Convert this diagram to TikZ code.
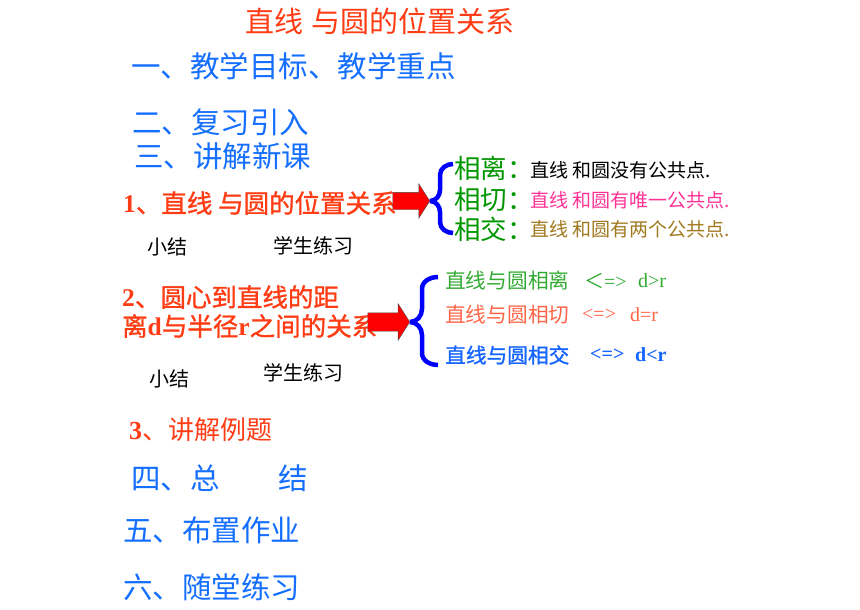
\documentclass[tikz,border=0pt]{standalone}
\usepackage{fontspec}
\setmainfont{Liberation Serif}
\newfontfamily\cjk{Noto Sans CJK SC}
\newfontfamily\cjkbf[FakeBold=1.2]{Noto Sans CJK SC}
\usetikzlibrary{shapes.arrows}
\definecolor{titlered}{RGB}{255,60,20}
\definecolor{itemblue}{RGB}{20,110,255}
\definecolor{casegreen}{RGB}{0,150,0}
\definecolor{casepink}{RGB}{255,50,150}
\definecolor{casebrown}{RGB}{160,120,30}
\definecolor{relgreen}{RGB}{50,170,50}
\definecolor{relsalmon}{RGB}{255,100,70}
\definecolor{relblue}{RGB}{20,100,255}
\newcommand*{\Fsize}[1]{\fontsize{#1}{#1}\selectfont}
\newcommand*{\Lb}[1]{{\rmfamily\bfseries #1}}

\begin{document}
\begin{tikzpicture}[x=1pt,y=-1pt]
\tikzstyle{txt}=[anchor=west,inner sep=0pt]
\tikzstyle{part}=[txt,text=itemblue,font=\cjk\Fsize{29.5}]
\tikzstyle{sub}=[txt,text=titlered,font=\cjkbf\Fsize{25.5}]
\tikzstyle{note}=[txt,font=\cjk\Fsize{20}]
\tikzstyle{case}=[txt,text=casegreen,font=\cjk\Fsize{26.5}]
\tikzstyle{fact}=[txt,font=\cjk\Fsize{19}]
\tikzstyle{rel}=[txt,font=\cjk\Fsize{20.7}]
\tikzstyle{sym}=[txt,font=\rmfamily\Fsize{20}]
\tikzstyle{redarrow}=[single arrow,draw=black!70,fill=red,thin,single arrow tip angle=115,anchor=tip]
\tikzstyle{brace}=[draw=blue,line width=4.5pt]

\useasboundingbox (0,0) rectangle (860,610);

\node at (245,21) [txt,text=titlered,font=\cjk\Fsize{29}] (title) {直线\hspace{0.3em}与圆的位置关系};

\node at (131,66) [part] (one) {一、教学目标、教学重点};
\node at (132,122) [part] (two) {二、复习引入};
\node at (134,156) [part] (three) {三、讲解新课};

\node at (123,203) [sub] (sub1) {\Lb{1}、直线 与圆的位置关系};
\node at (147,247) [note] (sum1) {小结};
\node at (273,246) [note] (prac1) {学生练习};

\node at (122,297) [sub] (sub2a) {\Lb{2}、圆心到直线的距};
\node at (122,326) [sub] (sub2b) {离\Lb{d}与半径\Lb{r}之间的关系};
\node at (149,379) [note] (sum2) {小结};
\node at (263,373) [note] (prac2) {学生练习};

\node at (129,430) [txt,text=titlered,font=\cjk\Fsize{26}] (sub3) {\Lb{3}、讲解例题};

\node at (131,478) [part] (four) {四、总\hspace{2em}结};
\node at (123,530) [part] (five) {五、布置作业};
\node at (123,587) [part] (six) {六、随堂练习};

% first brace
\node at (430,201) [redarrow,minimum height=37pt,inner sep=8.5pt,single arrow head extend=8.5pt] (arr1) {};
\draw[brace] (arr1.tip) to[out=0,in=-90] (440,190) -- (440,175) to[out=90,in=180] (453,164);
\draw[brace] (arr1.tip) to[out=0,in=90] (440,212) -- (440,222) to[out=-90,in=180] (453,233);

\node at (454,168) [case] (apart) {相离：};
\node at (454,199) [case] (touch) {相切：};
\node at (454,229) [case] (cross) {相交：};
\node at (530,170) [fact,text=black] (apartf) {直线 和圆没有公共点.};
\node at (530,200) [fact,text=casepink] (touchf) {直线 和圆有唯一公共点.};
\node at (530,229) [fact,text=casebrown] (crossf) {直线 和圆有两个公共点.};

% second brace
\node at (410,322) [redarrow,minimum height=42pt,inner sep=9pt,single arrow head extend=9pt] (arr2) {};
\draw[brace] (arr2.tip) to[out=0,in=-90] (422,309) -- (422,289) to[out=90,in=180] (438,277);
\draw[brace] (arr2.tip) to[out=0,in=90] (422,335) -- (422,353) to[out=-90,in=180] (438,365);

\node at (445,281) [rel,text=relgreen] (far) {直线与圆相离};
\node at (584,281) [sym,text=relgreen] (farsym) {{\cjk ＜}=>};
\node at (638,281) [sym,text=relgreen] (farval) {d>r};
\node at (445,315) [rel,text=relsalmon] (tan) {直线与圆相切};
\node at (582,315) [sym,text=relsalmon] (tansym) {<=>};
\node at (630,315) [sym,text=relsalmon] (tanval) {d=r};
\node at (445,355) [rel,text=relblue,font=\cjkbf\Fsize{20.7}] (sec) {直线与圆相交};
\node at (590,355) [sym,text=relblue,font=\rmfamily\bfseries\Fsize{20}] (secsym) {<=>};
\node at (635,355) [sym,text=relblue,font=\rmfamily\bfseries\Fsize{20}] (secval) {d<r};

\end{tikzpicture}
\end{document}
